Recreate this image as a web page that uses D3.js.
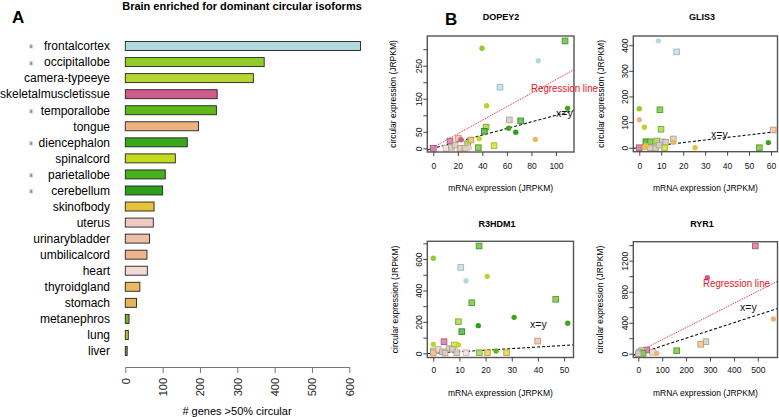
<!DOCTYPE html>
<html><head><meta charset="utf-8">
<script src="https://cdn.jsdelivr.net/npm/d3@7"></script>
<style>
body{margin:0;background:#fff;}
svg{display:block;font-family:"Liberation Sans",Arial,Helvetica,sans-serif;}
</style></head>
<body><svg id="chart" width="779" height="417"></svg>
<script>
// ---------- Panel A data ----------
const tissues = ["frontalcortex","occipitallobe","camera-typeeye","skeletalmuscletissue","temporallobe","tongue","diencephalon","spinalcord","parietallobe","cerebellum","skinofbody","uterus","urinarybladder","umbilicalcord","heart","thyroidgland","stomach","metanephros","lung","liver"];
const geneCounts = [630,372,343,246,244,196,166,134,107,100,77,75,65,58,59,39,30,10,8,5];
const starred = ["frontalcortex","occipitallobe","temporallobe","diencephalon","parietallobe","cerebellum"];
const barTicks = [0,100,200,300,400,500,600];
const tissueColors = ["#B3D9DF","#93CC2A","#B5D531","#CF5B8C","#5BBA18","#EFB47E","#38A818","#C5DA1C","#45B01C","#2CA01C","#E7C338","#F0CBC3","#EEBFA8","#EDB48E","#F2DAD6","#EBBA60","#E8B45A","#79B52C","#BFBF3C","#9A9A40"];

// ---------- Panel B data ----------
const dopey2Points = [
 {x:107.4,y:325,t:"parietallobe",s:"s"},{x:39.7,y:303,t:"occipitallobe",s:"c"},{x:85.6,y:265,t:"frontalcortex",s:"c"},
 {x:54.4,y:185,t:"frontalcortex",s:"s"},{x:43.5,y:129,t:"camera-typeeye",s:"c"},{x:109.5,y:121,t:"diencephalon",s:"c"},
 {x:62,y:86,t:"other",s:"s"},{x:71.2,y:83,t:"diencephalon",s:"s"},{x:43,y:64,t:"occipitallobe",s:"s"},
 {x:41.6,y:51.5,t:"cerebellum",s:"s"},{x:61.4,y:61,t:"diencephalon",s:"c"},{x:67.2,y:48.5,t:"cerebellum",s:"c"},
 {x:83.2,y:27,t:"thyroidgland",s:"c"},{x:37.5,y:29,t:"spinalcord",s:"c"},{x:49.5,y:8,t:"spinalcord",s:"s"},
 {x:36.7,y:2,t:"temporallobe",s:"s"},{x:28,y:14,t:"occipitallobe",s:"s"},{x:20.4,y:30,t:"tongue",s:"s"},
 {x:13.6,y:22,t:"skeletalmuscletissue",s:"s"},{x:22.6,y:26,t:"skeletalmuscletissue",s:"c"},{x:30.7,y:25,t:"stomach",s:"s"},
 {x:0,y:0,t:"skeletalmuscletissue",s:"s"},{x:10.4,y:0,t:"heart",s:"s"},{x:14.8,y:3,t:"other",s:"s"},
 {x:21.8,y:0,t:"umbilicalcord",s:"s"},{x:25.8,y:0,t:"other",s:"s"},{x:29.4,y:1,t:"uterus",s:"c"},{x:17.7,y:10,t:"other",s:"s"}
];
const glis3Points = [
 {x:8.7,y:417,t:"frontalcortex",s:"c"},{x:17,y:374,t:"frontalcortex",s:"s"},{x:0,y:152,t:"occipitallobe",s:"c"},
 {x:9.4,y:148,t:"temporallobe",s:"s"},{x:0,y:109,t:"tongue",s:"c"},{x:2.3,y:80,t:"camera-typeeye",s:"c"},
 {x:9.9,y:72,t:"occipitallobe",s:"s"},{x:61,y:69,t:"umbilicalcord",s:"s"},{x:58.8,y:20,t:"diencephalon",s:"c"},
 {x:54.7,y:0,t:"temporallobe",s:"s"},{x:25.4,y:0,t:"skinofbody",s:"c"},{x:15.5,y:34,t:"other",s:"s"},
 {x:15.5,y:21,t:"thyroidgland",s:"c"},{x:3,y:23,t:"cerebellum",s:"s"},{x:4.9,y:23,t:"temporallobe",s:"s"},
 {x:7.9,y:26,t:"occipitallobe",s:"s"},{x:10.5,y:23,t:"other",s:"s"},{x:12,y:21,t:"other",s:"s"},
 {x:0,y:0,t:"skeletalmuscletissue",s:"s"},{x:2.5,y:0,t:"skinofbody",s:"c"},{x:5,y:0,t:"other",s:"s"},
 {x:7.5,y:0,t:"other",s:"s"},{x:11.5,y:0,t:"spinalcord",s:"s"},{x:9,y:10,t:"other",s:"s"},{x:3,y:8,t:"skinofbody",s:"c"}
];
const r3hdm1Points = [
 {x:17.5,y:683,t:"parietallobe",s:"s"},{x:0,y:605,t:"occipitallobe",s:"c"},{x:10.5,y:547,t:"frontalcortex",s:"s"},
 {x:20.6,y:490,t:"camera-typeeye",s:"c"},{x:12.5,y:462,t:"frontalcortex",s:"c"},{x:14.7,y:322,t:"temporallobe",s:"s"},
 {x:46.8,y:344,t:"temporallobe",s:"s"},{x:30.9,y:229,t:"diencephalon",s:"c"},{x:51.4,y:191,t:"diencephalon",s:"c"},
 {x:9.6,y:201,t:"occipitallobe",s:"s"},{x:17.2,y:176,t:"cerebellum",s:"c"},{x:10.9,y:138,t:"cerebellum",s:"s"},
 {x:4.1,y:74,t:"skeletalmuscletissue",s:"s"},{x:39.9,y:78,t:"umbilicalcord",s:"s"},{x:0,y:57,t:"camera-typeeye",s:"c"},
 {x:8,y:53,t:"spinalcord",s:"s"},{x:9.6,y:53,t:"spinalcord",s:"c"},{x:17.6,y:4,t:"occipitallobe",s:"s"},
 {x:20.7,y:4,t:"skinofbody",s:"s"},{x:24,y:15,t:"temporallobe",s:"c"},{x:28,y:4,t:"skinofbody",s:"s"},
 {x:12.5,y:4,t:"heart",s:"s"},{x:0,y:15,t:"other",s:"s"},{x:1.9,y:25,t:"uterus",s:"s"},
 {x:3.5,y:10,t:"other",s:"s"},{x:6,y:30,t:"other",s:"s"},{x:7.3,y:25,t:"other",s:"s"},
 {x:9,y:4,t:"other",s:"s"},{x:4.5,y:2,t:"other",s:"s"},{x:0,y:3,t:"tongue",s:"s"}
];
const ryr1Points = [
 {x:489.5,y:1390,t:"skeletalmuscletissue",s:"s"},{x:288.7,y:981,t:"skeletalmuscletissue",s:"c"},{x:565,y:448,t:"tongue",s:"c"},
 {x:283,y:155,t:"other",s:"s"},{x:261,y:121,t:"tongue",s:"s"},{x:160.7,y:39,t:"temporallobe",s:"s"},
 {x:77,y:5,t:"tongue",s:"c"},{x:60,y:18,t:"uterus",s:"s"},{x:35,y:48,t:"skeletalmuscletissue",s:"s"},
 {x:14,y:40,t:"other",s:"s"},{x:5,y:20,t:"other",s:"s"},{x:20,y:5,t:"temporallobe",s:"s"},{x:0,y:0,t:"other",s:"s"}
];
const geneNames = ["DOPEY2","GLIS3","R3HDM1","RYR1"];
const xTickValues = [[0,20,40,60,80,100],[0,10,20,30,40,50,60],[0,10,20,30,40,50],[0,100,200,300,400,500]];
const yTickValues = [[0,50,100,150,200,250,300],[0,100,200,300,400],[0,100,200,300,400,500,600,700],[0,200,400,600,800,1000,1200,1400]];
const yTickLabels = [[0,50,150,250],[0,100,200,300,400],[0,200,400,600],[0,400,800,1200]];
const regressions = [{a:3,b:2.05},null,null,{a:25,b:1.56}];

// ---------- drawing ----------
const svg = d3.select("#chart");
const font = '"Liberation Sans",Arial,Helvetica,sans-serif';
const colorScale = d3.scaleOrdinal().domain(tissues.concat(["other"])).range(tissueColors.concat(["#CDBFB0"]));

// Panel A
svg.append("text").attr("x",12).attr("y",23).attr("font-size",17).attr("font-weight","bold").text("A");
svg.append("text").attr("x",242).attr("y",10).attr("text-anchor","middle").attr("font-size",11).attr("font-weight","bold")
  .text("Brain enriched for dominant circular isoforms");

const xA = d3.scaleLinear().domain([0,600]).range([125.3,349.3]);
const yA = d3.scaleBand().domain(tissues).range([38,359]).paddingInner(0.44).paddingOuter(0.22);

svg.append("g").selectAll("rect").data(tissues).join("rect")
  .attr("x",xA(0)).attr("y",d=>yA(d))
  .attr("width",(d,i)=>xA(geneCounts[i])-xA(0)).attr("height",yA.bandwidth())
  .attr("fill",d=>colorScale(d)).attr("stroke","#222").attr("stroke-width",0.9);

svg.append("g").selectAll("text").data(tissues).join("text")
  .attr("x",110).attr("y",d=>yA(d)+yA.bandwidth()/2).attr("dy","0.36em")
  .attr("text-anchor","end").attr("font-size",12).text(d=>d);

svg.append("g").selectAll("text").data(starred).join("text")
  .attr("x",31).attr("y",d=>yA(d)+yA.bandwidth()/2).attr("dy","0.62em")
  .attr("text-anchor","middle").attr("font-size",12).attr("fill","#777").text("*");

const axA = svg.append("g").attr("transform","translate(0,367)")
  .call(d3.axisBottom(xA).tickValues(barTicks).tickSize(6).tickSizeOuter(0).tickFormat(d3.format("d")));
axA.select(".domain").attr("stroke","#777");
axA.selectAll(".tick line").attr("stroke","#777");
axA.selectAll(".tick text").attr("font-size",11).attr("font-family",font).attr("fill","#222")
  .attr("transform","rotate(-90)").attr("text-anchor","end").attr("x",-11).attr("y",0).attr("dy","0.35em");
svg.append("text").attr("x",237).attr("y",415).attr("text-anchor","middle").attr("font-size",11).text("# genes >50% circular");

// Panel B
svg.append("text").attr("x",445).attr("y",25).attr("font-size",17).attr("font-weight","bold").text("B");

const panels = [
  {pts:dopey2Points, box:[427.3,574,36,152], xd:[-4.9,114.7], yd:[-11.2,340], title:[501,20], ylab:393, xlab:188, xt:166},
  {pts:glis3Points, box:[633.3,777.5,36,151.7], xd:[-2.73,62.96], yd:[-15.6,436], title:[702,20], ylab:601, xlab:188, xt:166},
  {pts:r3hdm1Points, box:[427.3,573.5,241.3,357.5], xd:[-2.29,53.6], yd:[-26.7,713], title:[497,227], ylab:395, xlab:393, xt:370},
  {pts:ryr1Points, box:[633.3,777.5,241.7,357.5], xd:[-20.9,582.4], yd:[-49,1445], title:[702,227], ylab:600, xlab:393, xt:370}
];

panels.forEach((p,i)=>{
  const [l,r,t,b] = p.box;
  const x = d3.scaleLinear().domain(p.xd).range([l,r]);
  const y = d3.scaleLinear().domain(p.yd).range([b,t]);
  const g = svg.append("g");
  const cid = "clip"+i;
  svg.append("clipPath").attr("id",cid).append("rect").attr("x",l).attr("y",t).attr("width",r-l).attr("height",b-t);

  g.append("text").attr("x",p.title[0]).attr("y",p.title[1]).attr("text-anchor","middle")
    .attr("font-size",9).attr("font-weight","bold").text(geneNames[i]);

  // lines
  const lg = g.append("g").attr("clip-path",`url(#${cid})`);
  lg.append("line").attr("x1",x(p.xd[0])).attr("y1",y(p.xd[0])).attr("x2",x(p.xd[1])).attr("y2",y(p.xd[1]))
    .attr("stroke","#111").attr("stroke-width",1.1).attr("stroke-dasharray","3,2");
  const reg = regressions[i];
  if(reg){
    lg.append("line").attr("x1",x(p.xd[0])).attr("y1",y(reg.a+reg.b*p.xd[0]))
      .attr("x2",x(p.xd[1])).attr("y2",y(reg.a+reg.b*p.xd[1]))
      .attr("stroke","#E0202A").attr("stroke-width",1).attr("stroke-dasharray","1,1");
  }

  // points
  const pg = g.append("g");
  p.pts.filter(d=>d.s==="s").forEach(d=>{
    const c = colorScale(d.t);
    pg.append("rect").attr("x",x(d.x)-2.8).attr("y",y(d.y)-2.8).attr("width",5.6).attr("height",5.6)
      .attr("fill",d3.interpolateRgb(c,"#ffffff")(0.25)).attr("stroke",d3.color(c).darker(0.5)).attr("stroke-width",1)
      .attr("opacity",0.9);
  });
  p.pts.filter(d=>d.s==="c").forEach(d=>{
    pg.append("circle").attr("cx",x(d.x)).attr("cy",y(d.y)).attr("r",2.7).attr("fill",colorScale(d.t));
  });

  // box
  g.append("rect").attr("x",l).attr("y",t).attr("width",r-l).attr("height",b-t)
    .attr("fill","none").attr("stroke","#555").attr("stroke-width",1.4);

  // x axis
  const xa = g.append("g").attr("transform",`translate(0,${b})`)
    .call(d3.axisBottom(x).tickValues(xTickValues[i]).tickSize(4).tickSizeOuter(0).tickFormat(d3.format("d")));
  xa.select(".domain").remove();
  xa.selectAll(".tick line").attr("stroke","#444");
  xa.selectAll(".tick text").attr("font-size",8.5).attr("font-family",font).attr("fill","#111")
    .attr("y",p.xt-b).attr("dy","0.35em");

  // y axis
  const ya = g.append("g").attr("transform",`translate(${l},0)`)
    .call(d3.axisLeft(y).tickValues(yTickValues[i]).tickSize(4).tickSizeOuter(0)
      .tickFormat(v=>yTickLabels[i].includes(v)?String(v):""));
  ya.select(".domain").remove();
  ya.selectAll(".tick line").attr("stroke","#444");
  ya.selectAll(".tick text").attr("font-size",8.5).attr("font-family",font).attr("fill","#111")
    .attr("transform","rotate(-90)").attr("text-anchor","middle").attr("x",0).attr("y",-5).attr("dy",0);

  g.append("text").attr("transform",`translate(${p.ylab},${(t+b)/2}) rotate(-90)`).attr("text-anchor","middle")
    .attr("dy","0.35em").attr("font-size",8.5).text("circular expression (JRPKM)");
  g.append("text").attr("x",(l+r)/2).attr("y",p.xlab).attr("dy","0.35em").attr("text-anchor","middle")
    .attr("font-size",8.5).text("mRNA expression (JRPKM)");
});

// annotations
const annot = [
  {x:531,y:88,txt:"Regression line",c:"#E8141E"},
  {x:556,y:113,txt:"x=y",c:"#111"},
  {x:711,y:134,txt:"x=y",c:"#111"},
  {x:530,y:324,txt:"x=y",c:"#111"},
  {x:703,y:283,txt:"Regression line",c:"#E8141E"},
  {x:740,y:307,txt:"x=y",c:"#111"}
];
svg.append("g").selectAll("text").data(annot).join("text")
  .attr("x",d=>d.x).attr("y",d=>d.y).attr("dy","0.35em").attr("font-size",10.5)
  .attr("textLength",d=>d.c==="#111"?null:67).attr("lengthAdjust","spacingAndGlyphs")
  .attr("fill",d=>d.c).text(d=>d.txt);
</script></body></html>
